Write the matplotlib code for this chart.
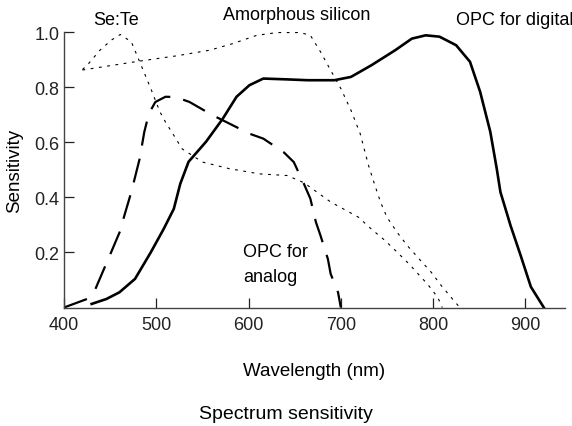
import matplotlib
matplotlib.use("Agg")
import matplotlib.pyplot as plt

plt.rcParams['font.family'] = ['Liberation Sans', 'DejaVu Sans']

# OPC for digital (solid)
digital_nm = [430, 446, 460, 477, 494, 508, 519, 526, 535, 554, 572, 587, 601,
              616, 642, 664, 693, 711, 733, 759, 777, 792, 807, 825, 840, 851,
              862, 869, 873, 884, 895, 906, 920]
digital_val = [0.013, 0.031, 0.055, 0.104, 0.20, 0.285, 0.358, 0.449, 0.529,
               0.602, 0.685, 0.765, 0.807, 0.831, 0.828, 0.825, 0.825, 0.837,
               0.879, 0.934, 0.976, 0.988, 0.983, 0.952, 0.892, 0.783, 0.638,
               0.504, 0.419, 0.297, 0.188, 0.075, 0.0]

# OPC for analog (dashed)
analog_nm = [400, 425, 434, 451, 461, 465, 473, 482, 487, 492, 499, 510, 521,
             536, 561, 576, 601, 616, 638, 649, 660, 667, 673, 678, 686, 689,
             697, 700]
analog_val = [0.0, 0.031, 0.067, 0.20, 0.279, 0.329, 0.42, 0.54, 0.637, 0.704,
              0.746, 0.765, 0.764, 0.746, 0.698, 0.673, 0.631, 0.613, 0.564,
              0.528, 0.449, 0.395, 0.31, 0.261, 0.176, 0.122, 0.055, 0.0]

# Se:Te (dotted)
sete_nm = [420, 425, 439, 451, 461, 473, 482, 494, 504, 510, 519, 528, 550,
           579, 612, 642, 660, 689, 719, 733, 748, 761, 774, 787, 794, 805, 810]
sete_val = [0.864, 0.879, 0.934, 0.970, 0.991, 0.964, 0.892, 0.795, 0.71,
            0.673, 0.625, 0.576, 0.528, 0.504, 0.485, 0.479, 0.453, 0.383,
            0.328, 0.285, 0.243, 0.201, 0.158, 0.11, 0.085, 0.037, 0.0]

# Amorphous silicon (dotted)
asi_nm = [420, 481, 521, 558, 583, 609, 631, 656, 667, 678, 689, 700, 711,
          721, 730, 737, 743, 750, 761, 772, 785, 798, 809, 821, 829]
asi_val = [0.862, 0.894, 0.913, 0.934, 0.958, 0.988, 0.998, 0.998, 0.988,
           0.928, 0.861, 0.795, 0.716, 0.631, 0.516, 0.443, 0.383, 0.328,
           0.273, 0.225, 0.176, 0.128, 0.079, 0.031, 0.0]

x_ticks = [400, 500, 600, 700, 800, 900]
y_ticks = [0.2, 0.4, 0.6, 0.8, 1.0]

fig = plt.figure(figsize=(5.72, 4.27), dpi=100)
ax = fig.add_axes([0.1119, 0.2775, 0.8759, 0.6452])

ax.plot(digital_nm, digital_val, color='black', lw=1.9)
ax.plot(analog_nm, analog_val, color='black', lw=1.6, dashes=(11, 6))
ax.plot(sete_nm, sete_val, color='black', lw=0.8, dashes=(2.5, 5))
ax.plot(asi_nm, asi_val, color='black', lw=0.8, dashes=(2.5, 5))

ax.set_xlim(400, 943)
ax.set_ylim(0, 1.0)
ax.set_xticks(x_ticks)
ax.set_yticks(y_ticks)
ax.set_yticklabels(['0.2', '0.4', '0.6', '0.8', '1.0'])
ax.tick_params(direction='in', length=7, width=0.9, labelsize=13, colors='#222222')
ax.tick_params(axis='x', pad=6)
for s in ['top', 'right']:
    ax.spines[s].set_visible(False)
for s in ['left', 'bottom']:
    ax.spines[s].set_color('#444444')
    ax.spines[s].set_linewidth(1.0)

ax.set_ylabel('Sensitivity', fontsize=13.5, labelpad=8)
ax.set_xlabel('Wavelength (nm)', fontsize=13.5, labelpad=21)
fig.text(0.5, 1 - 415 / 427, 'Spectrum sensitivity', fontsize=14,
         ha='center', va='center')

ax.text(456, 1.045, 'Se:Te', fontsize=13, ha='center', va='center', clip_on=False)
ax.text(652, 1.062, 'Amorphous silicon', fontsize=13, ha='center', va='center', clip_on=False)
ax.text(888, 1.044, 'OPC for digital', fontsize=13, ha='center', va='center', clip_on=False)
ax.text(594, 0.204, 'OPC for', fontsize=13, ha='left', va='center')
ax.text(594, 0.111, 'analog', fontsize=13, ha='left', va='center')

fig.savefig('out.png', dpi=100)
